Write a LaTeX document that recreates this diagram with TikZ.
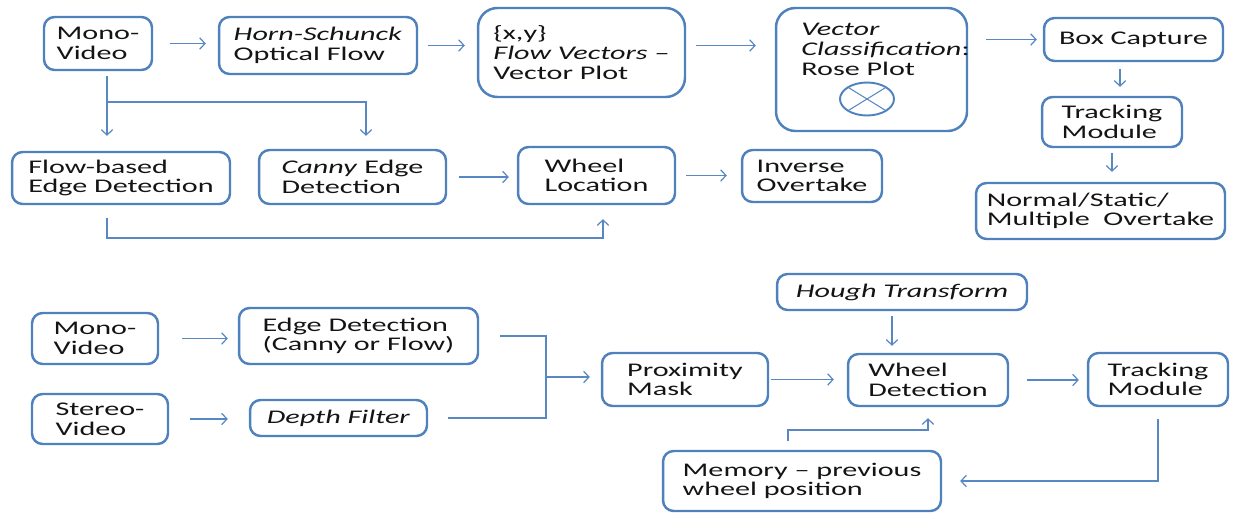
\documentclass[tikz,border=0pt]{standalone}
\usepackage{fontspec}
\setmainfont{Carlito}[FakeStretch=1.56]
\usepackage{tikz}
\usetikzlibrary{calc,positioning,arrows.meta}
\definecolor{boxblue}{RGB}{79,129,189}
\definecolor{lineblue}{RGB}{88,136,196}
\definecolor{ink}{RGB}{20,20,20}
\tikzset{
	>={Straight Barb[length=3pt,width=6.5pt]},
	box/.style={draw=boxblue, line width=1.4pt, rounded corners=6pt, align=left, text=ink, font=\fontsize{11pt}{11.2pt}\selectfont, inner sep=2pt},
	bigbox/.style={box, rounded corners=11pt},
	txt/.style={align=left, text=ink, font=\fontsize{11pt}{11.2pt}\selectfont, inner sep=0pt},
	link/.style={draw=lineblue, line width=0.7pt},
	arr/.style={link, ->},
}

\begin{document}
\begin{tikzpicture}[x=0.02cm, y=-0.02cm]
		\useasboundingbox (0,0) rectangle (1236,514);
		% upper diagram
		\node[box, minimum width=2.16cm, minimum height=1.06cm] (mono1) at (98,43.5) {Mono-\\Video};
		\node[box, minimum width=3.96cm, minimum height=1.14cm] (horn) at (318,45.5) {\textit{Horn-Schunck}\\Optical Flow};
		\node[bigbox, minimum width=4.14cm, minimum height=1.78cm] (flowvec) at (581.5,52.5) {\{x,y\}\\\textit{Flow Vectors} --\\Vector Plot};
		\node[bigbox, minimum width=3.82cm, minimum height=2.46cm] (vc) at (871.5,69.5) {};
		\node[txt, anchor=north west] (vctext) at (801,23) {\textit{Vector}\\\textit{Classification}:\\Rose Plot};
		\coordinate (rose) at (867,99);
		\node[box, minimum width=3.58cm, minimum height=0.86cm] (boxcap) at (1133.5,39.5) {Box Capture};
		\node[box, minimum width=2.80cm, minimum height=1.00cm] (track1) at (1112,122) {Tracking\\Module};
		\node[box, minimum width=4.98cm, minimum height=1.12cm] (normal) at (1100.5,211) {Normal/Static/\\Multiple\ \ Overtake};
		\node[box, minimum width=4.36cm, minimum height=1.04cm] (flowedge) at (121,178) {Flow-based\\Edge Detection};
		\node[box, minimum width=3.74cm, minimum height=1.08cm] (canny) at (352.5,177) {\textit{Canny} Edge\\Detection};
		\node[box, minimum width=3.14cm, minimum height=1.14cm] (wheelloc) at (596.5,175.5) {Wheel\\Location};
		\node[box, minimum width=2.80cm, minimum height=1.04cm] (inverse) at (812,176) {Inverse\\Overtake};

		\draw[boxblue, line width=1.1pt] (rose) ellipse [x radius=0.54cm, y radius=0.33cm];
		\draw[lineblue, line width=0.6pt] (rose) +(-19,-11.7) -- +(19,11.7) (rose) +(-19,11.7) -- +(19,-11.7);

		\coordinate (split) at (107,102);
		\coordinate (low) at (107,238);

		\draw[arr, shorten <=0.34cm, shorten >=0.24cm] (mono1.east) -- (mono1.east -| horn.west);
		\draw[arr, shorten <=0.2cm, shorten >=0.24cm] (horn.east) -- (horn.east -| flowvec.west);
		\draw[arr, shorten <=0.2cm, shorten >=0.38cm] (flowvec.east |- horn.east) -- (vc.west |- horn.east);
		\draw[arr, shorten <=0.36cm, shorten >=0.12cm] (vc.east |- boxcap.west) -- (boxcap.west);
		\draw[arr, shorten <=0.14cm, shorten >=0.18cm] ([xshift=0.16cm]boxcap.south -| track1.north) -- ([xshift=0.16cm]track1.north);
		\draw[arr, shorten <=0.1cm, shorten >=0.2cm] (track1.south) -- (track1.south |- normal.north);
		\draw[arr, shorten <=0.1cm, shorten >=0.3cm] (split |- mono1.south) -- (split |- flowedge.north);
		\draw[arr, shorten >=0.26cm] (split) -| ([xshift=0.27cm]canny.north);
		\draw[arr, shorten <=0.24cm, shorten >=0.16cm] (canny.east) -- (canny.east -| wheelloc.west);
		\draw[arr, shorten <=0.2cm, shorten >=0.28cm] (wheelloc.east) -- (wheelloc.east -| inverse.west);
		\draw[arr, shorten <=0.26cm, shorten >=0.28cm] (split |- flowedge.south) -- (low) -| ([xshift=0.13cm]wheelloc.south);

		% lower diagram
		\node[box, minimum width=2.52cm, minimum height=1.02cm] (mono2) at (95,338.5) {Mono-\\Video};
		\node[box, minimum width=2.72cm, minimum height=1.00cm] (stereo) at (100,419) {Stereo-\\Video};
		\node[box, minimum width=4.78cm, minimum height=1.12cm] (edgedet) at (358.5,336) {Edge Detection\\(Canny or Flow)};
		\node[box, minimum width=3.54cm, minimum height=0.72cm] (depth) at (338.5,418) {\textit{Depth Filter}};
		\node[box, minimum width=3.32cm, minimum height=1.06cm] (prox) at (685,379.5) {Proximity\\Mask};
		\node[box, minimum width=5.00cm, minimum height=0.72cm] (hough) at (902,292) {\textit{Hough Transform}};
		\node[box, minimum width=3.20cm, minimum height=1.04cm] (wheeldet) at (928,380) {Wheel\\Detection};
		\node[box, minimum width=2.80cm, minimum height=1.06cm] (track2) at (1158,379.5) {Tracking\\Module};
		\node[box, minimum width=5.56cm, minimum height=1.20cm] (memory) at (802,481) {Memory -- previous\\wheel position};

		\coordinate (merge) at (546,377);
		\coordinate (back) at (788,430);

		\draw[arr, shorten <=0.46cm, shorten >=0.2cm] (mono2.east) -- (mono2.east -| edgedet.west);
		\draw[arr, shorten <=0.42cm, shorten >=0.42cm] (stereo.east) -- (stereo.east -| depth.west);
		\draw[link, shorten <=0.42cm] (edgedet.east) -| (merge);
		\draw[link, shorten <=0.4cm] (depth.east) -| (merge);
		\draw[arr, shorten >=0.22cm] (merge) -- (merge -| prox.west);
		\draw[arr, shorten <=0.04cm, shorten >=0.26cm] (prox.east) -- (prox.east -| wheeldet.west);
		\draw[arr, shorten <=0.1cm, shorten >=0.14cm] ([xshift=-0.2cm]hough.south) -- ([xshift=-0.2cm]hough.south |- wheeldet.north);
		\draw[arr, shorten <=0.36cm, shorten >=0.16cm] (wheeldet.east) -- (wheeldet.east -| track2.west);
		\draw[arr, shorten <=0.24cm, shorten >=0.36cm] (track2.south) |- (memory.east);
		\draw[arr, shorten <=0.18cm, shorten >=0.22cm] (back |- memory.north) -- (back) -| (wheeldet.south);
	\end{tikzpicture}
\end{document}
